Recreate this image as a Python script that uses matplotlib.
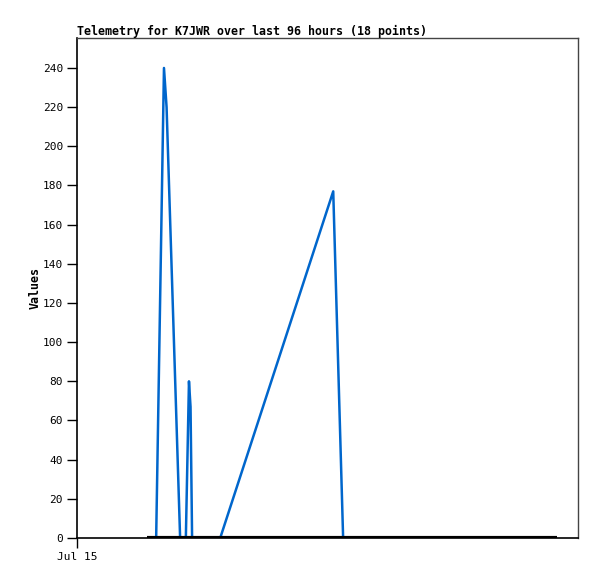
import matplotlib
matplotlib.use("Agg")
import matplotlib.pyplot as plt

# hours since Jul 15 00:00
blue_t = [15.2, 16.7, 17.2, 19.8, 20.9, 21.5, 21.8, 22.1, 27.5, 49.2, 51.1]
blue_v = [0, 240, 220, 0, 0, 80, 67, 0, 0, 177, 0]
zero_t = [13.4, 92.2]
zero_v = [0, 0]
yticks = list(range(0, 241, 20))
xtick_pos = [0]
xtick_labels = ["Jul 15"]

fig = plt.figure(figsize=(5.97, 5.79), dpi=100)
ax = fig.add_axes([77/597, 41/579, 501/597, 500/579])
mono = "DejaVu Sans Mono"

ax.plot(blue_t, blue_v, color="#0066cc", lw=1.8, zorder=3)
ax.plot(zero_t, zero_v, color="black", lw=3.0, solid_capstyle="butt", zorder=4)

ax.set_xlim(0, 96.2)
ax.set_ylim(0, 255.3)
ax.set_yticks(yticks)
ax.set_yticklabels([str(v) for v in yticks], family=mono, fontsize=8)
ax.set_xticks(xtick_pos)
ax.set_xticklabels(xtick_labels, family=mono, fontsize=8)
ax.tick_params(axis="both", length=7, width=1, color="black", pad=3)

for s in ["top", "right"]:
    ax.spines[s].set_color("#444444")
    ax.spines[s].set_linewidth(1)
for s in ["left", "bottom"]:
    ax.spines[s].set_color("black")
    ax.spines[s].set_linewidth(1.2)

ax.set_title("Telemetry for K7JWR over last 96 hours (18 points)", family=mono,
             fontsize=8.4, fontweight="bold", loc="left", pad=2)
ax.set_ylabel("Values", family=mono, fontsize=8.4, fontweight="bold", labelpad=1)

fig.savefig("out.png", dpi=100)
